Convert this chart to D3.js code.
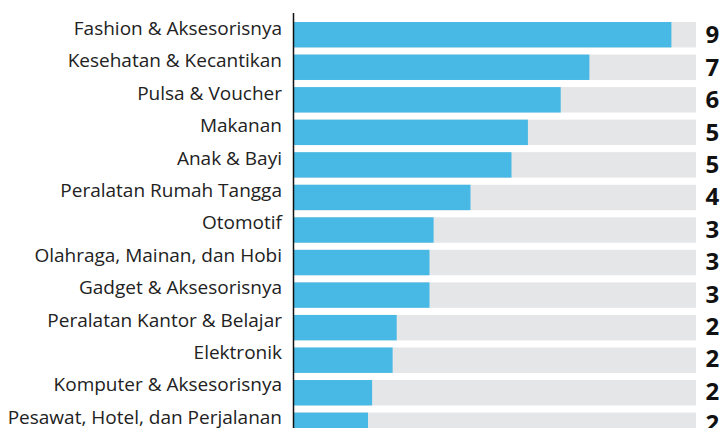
<!DOCTYPE html>
<html>
<head>
<meta charset="utf-8">
<script src="https://cdn.jsdelivr.net/npm/d3@7"></script>
<style>
  body { margin: 0; background: #fff; overflow: hidden; }
  svg { display: block; }
</style>
</head>
<body>
<svg id="chart" width="720" height="428"></svg>
<script>
// categories, top to bottom
var categories = [
    'Fashion & Aksesorisnya',
    'Kesehatan & Kecantikan',
    'Pulsa & Voucher',
    'Makanan',
    'Anak & Bayi',
    'Peralatan Rumah Tangga',
    'Otomotif',
    'Olahraga, Mainan, dan Hobi',
    'Gadget & Aksesorisnya',
    'Peralatan Kantor & Belajar',
    'Elektronik',
    'Komputer & Aksesorisnya',
    'Pesawat, Hotel, dan Perjalanan'
];

// percent (labels are cut at the right edge)
var values = [94, 74, 67, 59, 55, 45, 36, 35, 35, 27, 26, 21, 20];

var maxValue = 100;

const W = 720, H = 428;
const axisX = 294;
const svg = d3.select('#chart');

// zero sits a little left of the axis line, track ends at 100
const x = d3.scaleLinear().domain([0, maxValue]).range([286, 696]);
const y = d3.scaleBand().domain(categories).range([22, 22 + 32 * categories.length]).paddingInner(7 / 32).paddingOuter(0);
// text rows run on a slightly wider pitch than the bars
const yText = d3.scalePoint().domain(categories).range([0, 32.4 * (categories.length - 1)]);

// grey tracks
svg.append('g').selectAll('rect')
    .data(categories)
    .enter().append('rect')
    .attr('x', axisX)
    .attr('y', d => y(d))
    .attr('width', x(maxValue) - axisX)
    .attr('height', y.bandwidth())
    .style('fill', '#e5e6e8');

// blue bars
svg.append('g').selectAll('rect')
    .data(values)
    .enter().append('rect')
    .attr('x', axisX)
    .attr('y', (d, i) => y(categories[i]))
    .attr('width', d => x(d) - axisX)
    .attr('height', y.bandwidth())
    .style('fill', '#48b9e4');

// category labels
svg.append('g').selectAll('text')
    .data(categories)
    .enter().append('text')
    .attr('x', 282)
    .attr('y', d => 35 + yText(d))
    .attr('text-anchor', 'end')
    .style('font-family', "'Open Sans', sans-serif")
    .style('font-size', '19px')
    .style('fill', '#222')
    .text(d => d);

// value labels
svg.append('g').selectAll('text')
    .data(values)
    .enter().append('text')
    .attr('x', 705.5)
    .attr('y', (d, i) => 43.3 + yText(categories[i]))
    .style('font-family', "'Open Sans', sans-serif")
    .style('font-size', '24px')
    .style('font-weight', 'bold')
    .style('letter-spacing', '1.5px')
    .style('fill', '#111')
    .text(d => d + '%');

// axis line
svg.append('line')
    .attr('x1', 293.5).attr('x2', 293.5)
    .attr('y1', 13).attr('y2', H)
    .style('stroke', '#111')
    .style('stroke-width', 1.5);
</script>
</body>
</html>
